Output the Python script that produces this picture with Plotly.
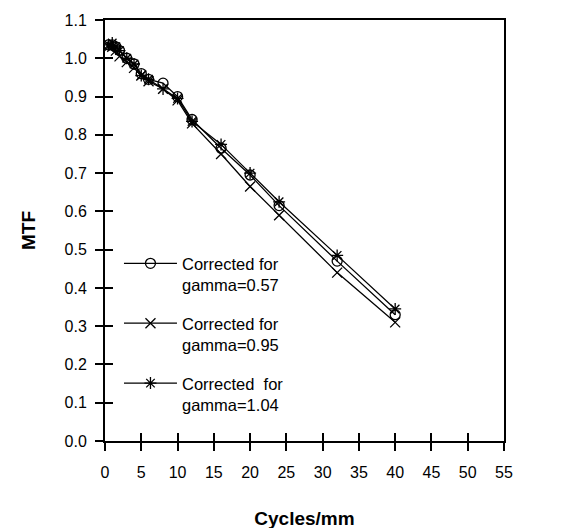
import plotly.graph_objects as go

freq = [0.5, 1, 1.5, 2, 3, 4, 5, 6, 8, 10, 12, 16, 20, 24, 32, 40]
mtf_057 = [1.035, 1.035, 1.03, 1.02, 1.0, 0.985, 0.96, 0.945, 0.935, 0.9, 0.84, 0.765, 0.695, 0.615, 0.47, 0.33]
mtf_095 = [1.03, 1.03, 1.02, 1.005, 0.99, 0.975, 0.955, 0.94, 0.92, 0.89, 0.83, 0.75, 0.665, 0.59, 0.44, 0.31]
mtf_104 = [1.035, 1.04, 1.03, 1.02, 1.0, 0.985, 0.955, 0.945, 0.92, 0.895, 0.835, 0.775, 0.70, 0.625, 0.485, 0.345]

names = ["Corrected for<br>gamma=0.57", "Corrected for<br>gamma=0.95", "Corrected  for<br>gamma=1.04"]
symbols = ["circle-open", "x-thin-open", "asterisk-open"]

fig = go.Figure()
for i, (y, name, sym) in enumerate(zip([mtf_057, mtf_095, mtf_104], names, symbols)):
    fig.add_trace(go.Scatter(
        x=freq, y=y, name=name, mode="lines+markers", legendgroup=str(i),
        line=dict(color="black", width=1.3),
        marker=dict(symbol=sym, size=10, color="black", line=dict(color="black", width=1.3)),
    ))

font = dict(family="Liberation Sans, Arial, sans-serif", size=16, color="black")
ticks_x = list(range(0, 60, 5))
ticks_y = [i / 10 for i in range(12)]
fig.update_layout(
    width=584, height=528,
    margin=dict(l=97, r=88, t=12, b=95),
    paper_bgcolor="white", plot_bgcolor="white",
    font=font,
    showlegend=True,
    legend=dict(x=0.035, y=0.463, xanchor="left", yanchor="top", bgcolor="rgba(0,0,0,0)",
                itemwidth=53, tracegroupgap=14, valign="top", traceorder="grouped",
                font=dict(family=font["family"], size=16.5, color="black")),
    xaxis=dict(range=[0, 55], tickvals=ticks_x, showgrid=False, zeroline=False,
               showline=True, linecolor="black", linewidth=2, mirror=True,
               ticks="outside", ticklen=8, tickwidth=2, tickcolor="black",
               ticklabelstandoff=8, automargin=False,
               title=dict(text="<b>Cycles/mm</b>", standoff=31)),
    yaxis=dict(range=[0, 1.1], tickvals=ticks_y, tickformat=".1f",
               showgrid=False, zeroline=False,
               showline=True, linecolor="black", linewidth=2, mirror=True,
               ticks="outside", ticklen=8, tickwidth=2, tickcolor="black",
               ticklabelstandoff=5, automargin=False,
               title=dict(text="<b>MTF</b>", standoff=24)),
    xaxis2=dict(overlaying="x", matches="x", anchor="y", side="bottom", showticklabels=False,
                tickvals=ticks_x, ticks="inside", ticklen=8, tickwidth=2,
                tickcolor="black", showgrid=False, zeroline=False),
    yaxis2=dict(overlaying="y", matches="y", anchor="x", side="left", showticklabels=False,
                tickvals=ticks_y, ticks="inside", ticklen=8, tickwidth=2,
                tickcolor="black", showgrid=False, zeroline=False),
)
# invisible trace to activate the inside-tick axes
fig.add_trace(go.Scatter(x=[0], y=[0], xaxis="x2", yaxis="y2", mode="markers",
                         marker=dict(opacity=0), showlegend=False, hoverinfo="skip"))

fig.write_html("out.html")
